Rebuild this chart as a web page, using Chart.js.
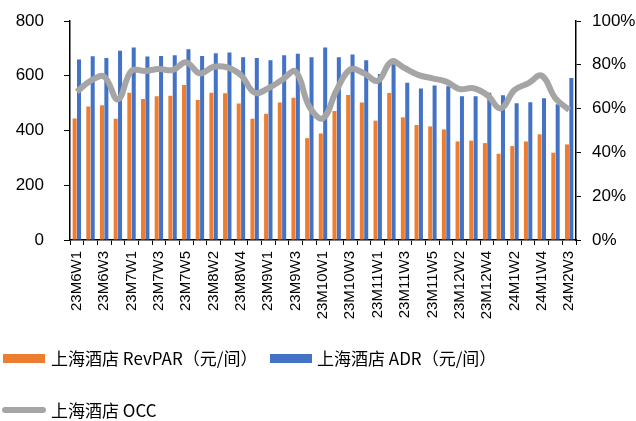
<!DOCTYPE html>
<html>
<head>
<meta charset="utf-8">
<script src="https://cdn.jsdelivr.net/npm/chart.js@4/dist/chart.umd.min.js"></script>
<style>
  body { margin: 0; background: #fff; }
  #wrap { position: relative; width: 636px; height: 421px; }
  #bieudo { position: absolute; left: 0; top: 0; }
  .lg { position: absolute; font-family: "Noto Sans CJK SC", sans-serif; font-size: 17px; color: #000; white-space: nowrap; line-height: 20px; }
  .sw { position: absolute; }
</style>
</head>
<body>
<div id="wrap">
  <canvas id="bieudo" width="636" height="421"></canvas>
  <div class="sw" style="left:3px;top:354px;width:42px;height:9px;background:#ED7D31"></div>
  <div class="lg" style="left:51px;top:348px">上海酒店 RevPAR（元/间）</div>
  <div class="sw" style="left:270px;top:354px;width:42px;height:9px;background:#4472C4"></div>
  <div class="lg" style="left:317px;top:348px">上海酒店 ADR（元/间）</div>
  <div class="sw" style="left:2px;top:407px;width:44px;height:6px;border-radius:3px;background:#A5A5A5"></div>
  <div class="lg" style="left:51px;top:400px">上海酒店 OCC</div>
</div>
<script>
// Tuần
var tuan = ['23M6W1','23M6W2','23M6W3','23M6W4','23M7W1','23M7W2','23M7W3','23M7W4','23M7W5',
  '23M8W1','23M8W2','23M8W3','23M8W4','23M8W5','23M9W1','23M9W2','23M9W3','23M9W4',
  '23M10W1','23M10W2','23M10W3','23M10W4','23M11W1','23M11W2','23M11W3','23M11W4','23M11W5',
  '23M12W1','23M12W2','23M12W3','23M12W4','24M1W1','24M1W2','24M1W3','24M1W4','24M2W2','24M2W3'];

// RevPAR (元/间)
var revpar = [444,488,492,443,538,515,525,527,566,511,538,536,499,443,461,502,520,372,389,471,530,502,436,537,448,420,415,404,360,363,354,315,343,360,386,319,349];

// ADR (元/间)
var adr = [659,671,665,691,703,670,672,675,697,672,682,685,668,665,657,675,680,668,703,668,678,657,606,663,574,553,564,562,525,525,538,529,500,503,518,496,592];

// OCC (%)
var occ = [67.7,72.7,74.6,64.2,77.3,77.2,78.1,77.6,81.1,76.1,79.1,78.8,75.3,67.3,69.3,73.1,76.9,60.9,55.6,68.5,77.9,76.1,72.7,81.4,78.4,75.3,73.8,72.3,68.9,69.3,66.2,60.1,68.5,71.5,75,64.7,59.4];

var tickTrai = [0, 200, 400, 600, 800];
var tickPhai = [0, 20, 40, 60, 80, 100];

var fontSo = { family: '"Liberation Sans", Arial, sans-serif', size: 17 };

new Chart(document.getElementById('bieudo'), {
  type: 'bar',
  data: {
    labels: tuan,
    datasets: [
      {
        type: 'line',
        label: '上海酒店 OCC',
        data: occ,
        yAxisID: 'y1',
        borderColor: '#A5A5A5',
        borderWidth: 6,
        pointRadius: 0,
        tension: 0.4,
        order: 0
      },
      {
        label: '上海酒店 RevPAR（元/间）',
        data: revpar,
        backgroundColor: '#ED7D31',
        categoryPercentage: 0.64,
        barPercentage: 0.92,
        order: 1
      },
      {
        label: '上海酒店 ADR（元/间）',
        data: adr,
        backgroundColor: '#4472C4',
        categoryPercentage: 0.64,
        barPercentage: 0.92,
        order: 1
      }
    ]
  },
  options: {
    responsive: false,
    animation: false,
    layout: { padding: { top: 21, left: 0, right: 0, bottom: 0 } },
    plugins: { legend: { display: false }, tooltip: { enabled: false } },
    scales: {
      x: {
        grid: { drawOnChartArea: false, drawTicks: true, tickLength: 5, color: '#000', offset: true },
        border: { color: '#000', width: 1.5 },
        ticks: {
          autoSkip: false,
          minRotation: 90,
          maxRotation: 90,
          padding: 6,
          color: '#000',
          font: { family: '"Liberation Sans", Arial, sans-serif', size: 15 },
          callback: function (v, i) { return i % 2 === 0 ? tuan[i] : ''; }
        },
        afterFit: function (s) { s.height = 181; }
      },
      y: {
        position: 'left',
        min: 0,
        max: 800,
        afterBuildTicks: function (s) { s.ticks = tickTrai.map(function (v) { return { value: v }; }); },
        grid: { drawOnChartArea: false, drawTicks: true, tickLength: 6, color: '#000' },
        border: { color: '#000', width: 1.5 },
        ticks: { color: '#000', font: fontSo, padding: 20 },
        afterFit: function (s) { s.width = 70; s.paddingTop = 0; s.paddingBottom = 0; }
      },
      y1: {
        position: 'right',
        min: 0,
        max: 100,
        afterBuildTicks: function (s) { s.ticks = tickPhai.map(function (v) { return { value: v }; }); },
        grid: { drawOnChartArea: false, drawTicks: true, tickLength: 5, color: '#000' },
        border: { color: '#000', width: 1.5 },
        ticks: { color: '#000', font: fontSo, padding: 11, callback: function (v) { return v + '%'; } },
        afterFit: function (s) { s.width = 60; s.paddingTop = 0; s.paddingBottom = 0; }
      }
    }
  }
});
</script>
</body>
</html>
